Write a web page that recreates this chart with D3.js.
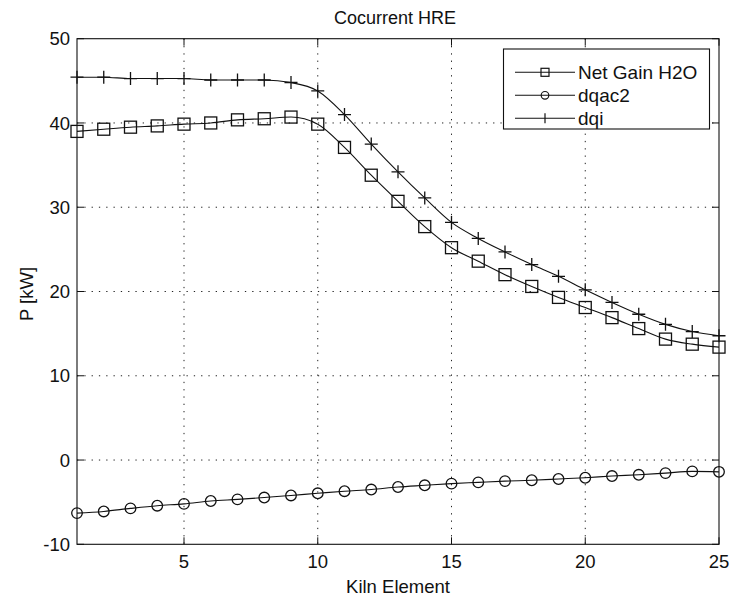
<!DOCTYPE html>
<html><head><meta charset="utf-8">
<script src="https://cdn.jsdelivr.net/npm/d3@7"></script>
<style>body{margin:0;background:#fff;} text{font-family:"Liberation Sans",Arial,sans-serif;fill:#111;}</style>
</head><body><svg id="c" width="730" height="598"></svg>
<script>
const elements = d3.range(1, 26);
const netGainH2O = [39.0,39.26,39.5,39.65,39.86,40.0,40.37,40.5,40.7,39.86,37.1,33.8,30.7,27.7,25.2,23.6,22.0,20.6,19.3,18.1,16.9,15.6,14.35,13.75,13.4];
const dqac2 = [-6.3,-6.1,-5.74,-5.42,-5.2,-4.86,-4.67,-4.45,-4.2,-3.95,-3.7,-3.5,-3.2,-3.0,-2.8,-2.65,-2.5,-2.4,-2.25,-2.1,-1.9,-1.75,-1.55,-1.35,-1.4];
const dqi = [45.43,45.43,45.27,45.27,45.27,45.1,45.1,45.1,44.8,43.8,41.0,37.5,34.2,31.1,28.2,26.3,24.7,23.2,21.8,20.2,18.7,17.3,16.1,15.25,14.75];
const xTicks = [5,10,15,20,25];
const yTicks = [-10,0,10,20,30,40,50];
const seriesNames = ["Net Gain H2O","dqac2","dqi"];
const markers = ["square","circle","plus"];

const svg = d3.select("#c");
const L=77, R=719, T=38.7, B=544.3;
const x = d3.scaleLinear().domain([1,25]).range([L,R]);
const y = d3.scaleLinear().domain([-10,50]).range([B,T]);
const FS = "18.5px";

// grid
const g = svg.append("g");
g.selectAll(".gx").data(xTicks.filter(d=>d>1&&d<25)).enter().append("line")
 .attr("x1",d=>x(d)).attr("x2",d=>x(d)).attr("y1",T).attr("y2",B)
 .attr("stroke","#222").attr("stroke-width",1).attr("stroke-dasharray","1.3,6");
g.selectAll(".gy").data(yTicks.filter(d=>d>-10&&d<50)).enter().append("line")
 .attr("y1",d=>y(d)).attr("y2",d=>y(d)).attr("x1",L).attr("x2",R)
 .attr("stroke","#222").attr("stroke-width",1).attr("stroke-dasharray","1.3,6");

// axes with inward ticks
const ax = svg.append("g");
ax.append("rect").attr("x",L).attr("y",T).attr("width",R-L).attr("height",B-T)
 .attr("fill","none").attr("stroke","#111").attr("stroke-width",1.1);
xTicks.forEach(d=>{
  ax.append("line").attr("x1",x(d)).attr("x2",x(d)).attr("y1",B).attr("y2",B-7).attr("stroke","#111");
  ax.append("line").attr("x1",x(d)).attr("x2",x(d)).attr("y1",T).attr("y2",T+7).attr("stroke","#111");
  ax.append("text").attr("x",x(d)).attr("y",567.5).attr("text-anchor","middle").style("font-size",FS).text(d);
});
yTicks.forEach(d=>{
  ax.append("line").attr("y1",y(d)).attr("y2",y(d)).attr("x1",L).attr("x2",L+7).attr("stroke","#111");
  ax.append("line").attr("y1",y(d)).attr("y2",y(d)).attr("x1",R).attr("x2",R-7).attr("stroke","#111");
  ax.append("text").attr("x",70).attr("y",y(d)).attr("dy","0.36em").attr("text-anchor","end").style("font-size",FS).text(d);
});

svg.append("text").attr("x",395).attr("y",24).attr("text-anchor","middle").style("font-size","18px").text("Cocurrent HRE");
svg.append("text").attr("x",(L+R)/2+0).attr("y",593).attr("text-anchor","middle").style("font-size",FS).text("Kiln Element");
svg.append("text").attr("transform","translate(33,294) rotate(-90)").attr("text-anchor","middle").style("font-size",FS).text("P [kW]");

function drawMarker(sel, type, cx, cy){
  if(type==="square") sel.append("rect").attr("x",cx-6).attr("y",cy-6).attr("width",12).attr("height",12)
     .attr("fill","none").attr("stroke","#111").attr("stroke-width",1.3);
  else if(type==="circle") sel.append("circle").attr("cx",cx).attr("cy",cy).attr("r",5.3)
     .attr("fill","none").attr("stroke","#111").attr("stroke-width",1.3);
  else { sel.append("path").attr("d",`M${cx-6.5},${cy}H${cx+6.5}M${cx},${cy-6.5}V${cy+6.5}`)
     .attr("stroke","#111").attr("stroke-width",1.3); }
}

const allSeries = [netGainH2O, dqac2, dqi];
const line = d3.line().x((d,i)=>x(elements[i])).y(d=>y(d)).curve(d3.curveMonotoneX);
allSeries.forEach((s,k)=>{
  svg.append("path").attr("d",line(s)).attr("fill","none").attr("stroke","#111").attr("stroke-width",1.1);
  const mg = svg.append("g");
  s.forEach((v,i)=>drawMarker(mg, markers[k], x(elements[i]), y(v)));
});

// legend
const lg = svg.append("g");
lg.append("rect").attr("x",503.5).attr("y",49).attr("width",206).attr("height",80)
  .attr("fill","#fff").attr("stroke","#111").attr("stroke-width",1.1);
seriesNames.forEach((n,k)=>{
  const yy = 72.3 + k*23;
  lg.append("line").attr("x1",515).attr("x2",575).attr("y1",yy).attr("y2",yy).attr("stroke","#111").attr("stroke-width",1.1);
  const mg = lg.append("g");
  if(markers[k]==="square") mg.append("rect").attr("x",541).attr("y",yy-4).attr("width",8).attr("height",8).attr("fill","none").attr("stroke","#111").attr("stroke-width",1.2);
  else if(markers[k]==="circle") mg.append("circle").attr("cx",545).attr("cy",yy).attr("r",3.8).attr("fill","none").attr("stroke","#111").attr("stroke-width",1.2);
  else mg.append("path").attr("d",`M545,${yy-5}V${yy+5}`).attr("stroke","#111").attr("stroke-width",1.2);
  lg.append("text").attr("x",578).attr("y",yy).attr("dy","0.36em").style("font-size","19px").text(n);
});
</script></body></html>
